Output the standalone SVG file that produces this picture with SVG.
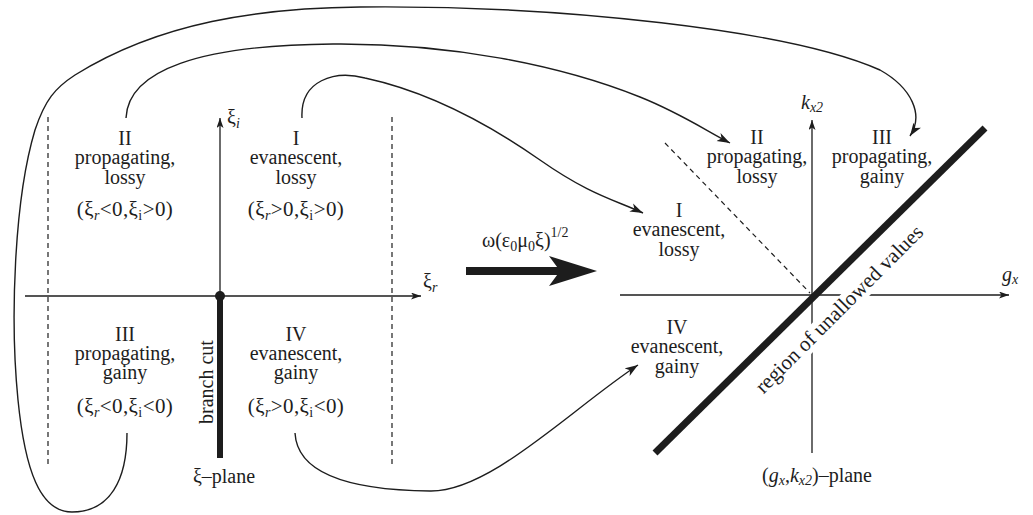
<svg xmlns="http://www.w3.org/2000/svg" width="1033" height="515" viewBox="0 0 1033 515">
<style>
text{font-family:"Liberation Serif","Times New Roman",serif;font-size:20px;fill:#1d1d1d}
.c{text-anchor:middle}
.it{font-style:italic}
.sub{font-size:14px}
.par{font-size:21px;letter-spacing:0.4px}
.ax{stroke:#1d1d1d;stroke-width:1.3;fill:none}
.dash{stroke:#1d1d1d;stroke-width:1.2;stroke-dasharray:5 4;fill:none}
.conn{stroke:#1d1d1d;stroke-width:1.4;fill:none}
.thick{stroke:#1d1d1d;stroke-width:7;fill:none}
</style>
<defs>
<marker id="ah" markerWidth="14" markerHeight="10" refX="13" refY="5" orient="auto" markerUnits="userSpaceOnUse"><path d="M0,0.5 L13,5 L0,9.5 L3.5,5 Z" fill="#1d1d1d"/></marker>
<marker id="axh" markerWidth="11" markerHeight="8" refX="10" refY="3.5" orient="auto" markerUnits="userSpaceOnUse"><path d="M0,0 L10,3.5 L0,7 L2.5,3.5 Z" fill="#1d1d1d"/></marker>
</defs>
<rect width="1033" height="515" fill="#ffffff"/>

<g id="xi-plane">
<line class="dash" x1="48" y1="117" x2="48" y2="467"/>
<line class="dash" x1="392" y1="117" x2="392" y2="467"/>
<line class="ax" x1="25" y1="296" x2="421" y2="296" marker-end="url(#axh)"/>
<line class="ax" x1="220" y1="296" x2="220" y2="118" marker-end="url(#axh)"/>
<line class="thick" x1="220" y1="296" x2="220" y2="458" style="stroke-width:6"/>
<circle cx="220" cy="296" r="5" fill="#1d1d1d"/>
<text x="423" y="288">ξ<tspan class="sub it" dy="4">r</tspan></text>
<text x="227" y="124">ξ<tspan class="sub it" dy="4">i</tspan></text>
<text class="c" transform="translate(213,382) rotate(-90)">branch cut</text>
<text class="c" x="224" y="483">ξ–plane</text>
</g>

<g id="region-II-left">
<text class="c" x="125" y="145">II</text>
<text class="c" x="125" y="164">propagating,</text>
<text class="c" x="125" y="184">lossy</text>
<text class="c par" x="125" y="216">(ξ<tspan class="sub it" dy="4">r</tspan><tspan dy="-4">&lt;0,ξ</tspan><tspan class="sub" dy="4">i</tspan><tspan dy="-4">&gt;0)</tspan></text>
</g>
<g id="region-I-left">
<text class="c" x="296" y="145">I</text>
<text class="c" x="296" y="164">evanescent,</text>
<text class="c" x="296" y="184">lossy</text>
<text class="c par" x="296" y="216">(ξ<tspan class="sub it" dy="4">r</tspan><tspan dy="-4">&gt;0,ξ</tspan><tspan class="sub" dy="4">i</tspan><tspan dy="-4">&gt;0)</tspan></text>
</g>
<g id="region-III-left">
<text class="c" x="125" y="341">III</text>
<text class="c" x="125" y="360">propagating,</text>
<text class="c" x="125" y="379">gainy</text>
<text class="c par" x="125" y="413">(ξ<tspan class="sub it" dy="4">r</tspan><tspan dy="-4">&lt;0,ξ</tspan><tspan class="sub" dy="4">i</tspan><tspan dy="-4">&lt;0)</tspan></text>
</g>
<g id="region-IV-left">
<text class="c" x="296" y="341">IV</text>
<text class="c" x="296" y="360">evanescent,</text>
<text class="c" x="296" y="379">gainy</text>
<text class="c par" x="296" y="413">(ξ<tspan class="sub it" dy="4">r</tspan><tspan dy="-4">&gt;0,ξ</tspan><tspan class="sub" dy="4">i</tspan><tspan dy="-4">&lt;0)</tspan></text>
</g>

<g id="mapping">
<line x1="466" y1="271" x2="562" y2="271" stroke="#1d1d1d" stroke-width="8"/>
<path d="M597,271 L549,256 L560,271 L549,286 Z" fill="#1d1d1d"/>
<text x="482" y="247">ω(ε<tspan class="sub" dy="4">0</tspan><tspan dy="-4">μ</tspan><tspan class="sub" dy="4">0</tspan><tspan dy="-4">ξ)</tspan><tspan class="sub" dy="-10">1/2</tspan></text>
</g>

<g id="gk-plane">
<line class="dash" x1="665" y1="143" x2="810" y2="293"/>
<line class="ax" x1="620" y1="295" x2="1009" y2="295" marker-end="url(#axh)"/>
<line class="ax" x1="812" y1="453" x2="812" y2="120" marker-end="url(#axh)"/>
<line class="thick" x1="655" y1="453" x2="985" y2="128"/>
<g transform="translate(844,314) rotate(-45)">
<rect x="-118" y="-16" width="236" height="21" fill="#ffffff"/>
<text class="c" x="0" y="0" style="font-size:21px">region of unallowed values</text>
</g>
<text class="it" x="801" y="109">k<tspan class="sub" dy="3">x2</tspan></text>
<text class="it" x="1002" y="281">g<tspan class="sub" dy="3">x</tspan></text>
<text class="c" x="817" y="482">(<tspan class="it">g</tspan><tspan class="sub it" dy="3">x</tspan><tspan dy="-3">,</tspan><tspan class="it">k</tspan><tspan class="sub it" dy="3">x2</tspan><tspan dy="-3">)–plane</tspan></text>
</g>

<g id="region-II-right">
<text class="c" x="757" y="144">II</text>
<text class="c" x="757" y="163">propagating,</text>
<text class="c" x="757" y="183">lossy</text>
</g>
<g id="region-III-right">
<text class="c" x="882" y="144">III</text>
<text class="c" x="882" y="163">propagating,</text>
<text class="c" x="882" y="183">gainy</text>
</g>
<g id="region-I-right">
<text class="c" x="679" y="217">I</text>
<text class="c" x="679" y="236">evanescent,</text>
<text class="c" x="679" y="256">lossy</text>
</g>
<g id="region-IV-right">
<text class="c" x="677" y="334">IV</text>
<text class="c" x="677" y="353">evanescent,</text>
<text class="c" x="677" y="373">gainy</text>
</g>

<g id="connectors">
<path class="conn" d="M302,118 C300,80 335,70 365,78 C430,92 490,125 540,160 S615,200 643,213" marker-end="url(#ah)"/>
<path class="conn" d="M126,118 C128,70 200,45 333,44 C450,43 560,65 640,97 C680,113 705,130 730,143" marker-end="url(#ah)"/>
<path class="conn" d="M127,433 C127,480 110,512 72,512 C40,512 25,470 18,400 C10,320 14,200 35,130 C45,100 55,88 75,75 C160,22 260,8 360,7 C560,5 790,30 880,70 C912,88 924,115 910,136" marker-end="url(#ah)"/>
<path class="conn" d="M295,433 C297,470 340,490 430,491 C490,492 570,410 638,365" marker-end="url(#ah)"/>
</g>
</svg>
